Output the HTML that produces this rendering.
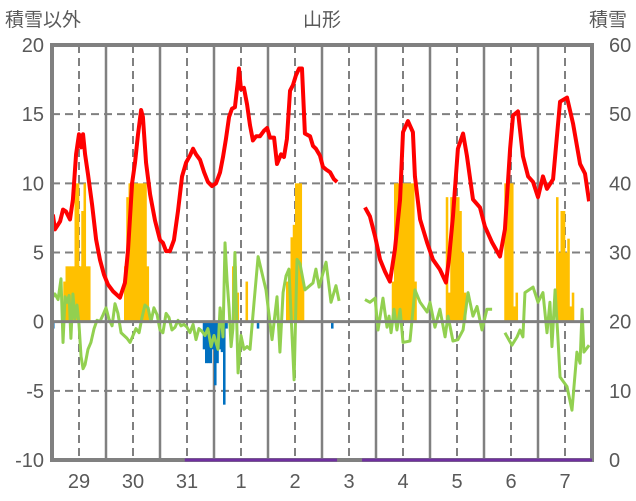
<!DOCTYPE html>
<html><head><meta charset="utf-8"><style>
html,body{margin:0;padding:0;background:#fff;}
svg{display:block;font-family:"Liberation Sans","Noto Sans CJK JP",sans-serif;}
</style></head><body>
<svg id="chart" width="636" height="501" viewBox="0 0 636 501" xmlns="http://www.w3.org/2000/svg">
<text x="5" y="26" font-size="19" fill="#595959">積雪以外</text>
<text x="322" y="26" font-size="19" fill="#595959" text-anchor="middle">山形</text>
<text x="589" y="26" font-size="19" fill="#595959">積雪</text>
<g id="grid"></g><g id="bars"></g><g id="lines"></g><g id="frame"></g><g id="labels"></g>
</svg>
<script>
const dayLabels=["29","30","31","1","2","3","4","5","6","7"];
const leftTicks=[20,15,10,5,0,-5,-10];
const rightTicks=[60,50,40,30,20,10,0];
const redT1=[0.4,1.3,3.6,4.9,6.2,8,9.3,10.7,12,12.9,13.8,14.7,16,17.8,19.6,21.3,23.1,24.9,27.1,30.2,32.4,33.8,35.6,36.9,38.2,39.6,40.4,41.8,43.6,45.8,48,49.3,50.7,52.4,54.2,56,57.8,59.6,61.3,62.7,64,65.8,67.6,69.3,71.1,72.9,74.7,76,77.3,78.7,80,81.3,82.7,83.1,84,85.3,86.7,88,89.3,90.7,92.4,94.2,95.6,96.9,98.7,100,101.8,103.1,104.4,105.8,107.1,108.4,109.8,111.1,112.4,114.7,116,117.3,119.1,120.4,121.8,123.6,125.3,126.7];
const redV1=[7.75,6.67,7.25,8.1,7.97,7.39,8.84,12.1,13.55,12.6,13.55,12.1,10.65,8.48,5.94,4.49,3.4,2.68,2.2,1.74,2.8,5.2,10,11.5,13.5,15.3,14.8,11.5,9.2,7.3,5.9,5.7,5.1,5.1,5.9,8,10.5,11.5,12,12.5,12.1,11.7,10.8,10.1,9.8,10,10.8,11.9,13.2,14.8,15.4,15.5,17.5,18.3,16.8,16.9,15.7,14.2,13.1,13.4,13.4,13.8,14,13.3,13.3,11.4,12.1,11.9,13.2,16.7,17.1,17.8,18.3,18.3,13.6,13.4,12.7,12.5,12,11.2,11,10.8,10.3,10.1];
const redT2=[139.1,141.3,143.6,145.8,148,150.2,152.4,154.7,156,158.2,160.4,161.3,163.6,166.7,169.3,172.4,175.1,176.4,178.2,180.4,182.7,184.4,187.1,190.2,192.4,195.6,199.1,201.3,203.6,204.9,207.1,209.3,211.6,213.8,216,218.2,220,222.7,225.8,228.9,231.6,234.7,236.9,238.7];
const redV2=[8.26,7.61,6.16,4.49,3.62,2.9,5.2,8.84,13.7,14.5,13.7,10.5,7.39,5.72,4.49,3.77,2.83,4.49,7.61,12.5,13.6,12.0,8.84,8.26,6.88,5.72,4.71,6.67,12.5,14.9,15.2,11.96,10.5,10.1,9.0,10.5,9.6,10.3,15.9,16.2,14.3,11.4,10.7,8.7];
const greenT1=[0,1.3,2.7,4,4.9,5.8,6.7,7.6,8.4,9.3,10.2,11.1,12,12.9,13.8,14.7,16,17.3,18.7,20,21.3,22.7,24,25.3,26.7,28,29.3,30.7,32,33.3,34.7,36,37.3,38.7,40,41.3,42.7,44,45.3,46.7,48,49.3,50.7,52,53.3,54.7,56,57.3,58.7,60,61.3,62.7,64,65.3,66.7,68,69.3,70.7,72,72.9,73.8,74.7,75.1,76,76.9,77.8,78.7,79.6,80.4,81.3,82.7,84,85.3,86.7,88,89.8,91.6,95.1,97.8,100,101.3,102.7,104,105.3,107.6,108.9,110.2,112.4,116,117.3,118.7,121.8,124,126.2,127.6];
const greenV1=[1.7,2.0,1.6,3.1,-1.5,1.8,1.4,1.9,-1.2,2.0,0.2,1.2,-0.2,-2.5,-3.4,-3.1,-2.0,-1.5,-0.5,0.1,0,0.5,1.0,0.2,-0.3,1.3,0.6,-0.8,-1.0,-1.2,-1.5,-1.0,-0.5,-0.8,0.3,1.2,1.0,0,1.0,0.5,-0.6,-0.8,0.6,0.3,-0.6,-0.4,0.1,-0.3,-0.2,-0.4,-0.8,-0.2,-1.3,-0.5,-0.7,-1.0,-0.5,-1.8,-1.0,-1.5,-2.0,1.0,0.5,-1.1,5.7,3.0,1.0,-1.8,-0.5,5.0,-3.7,-1.0,-2.0,-1.8,-2.0,1.4,4.7,2.3,-1.3,1.8,-2.2,2.1,3.3,3.8,-4.2,4.5,4.2,2.3,2.8,3.8,2.5,4.3,1.4,2.6,1.5];
const greenT2=[139.1,141.3,143.6,144.9,147.1,148.9,149.8,150.7,152,153.3,154.7,156,159.1,161.3,163.6,166.7,168,170.2,172.4,174.7,176,178.2,180.4,182.7,184.9,187.1,188.9,191.1,193.3,195.6];
const greenV2=[1.6,1.4,1.7,-0.6,1.7,-0.4,0.4,-0.8,0.9,-0.6,0.9,-1.5,-1.4,2.3,1.4,0.7,1.4,-0.4,0.9,-1.1,0.4,-1.4,-1.3,-0.6,2.1,0.4,1.1,-0.6,0.9,0.9];
const greenT3=[201.3,204.4,206.7,208,209.3,210.2,213.8,216,218.2,220,221.3,222.2,223.6,224.9,225.8,228.9,231.1,233.3,234.7,235.6,236.4,238.7];
const greenV3=[-0.8,-1.7,-1.1,-0.6,-1.1,2.1,2.5,1.4,2.1,-0.8,1.4,-1.8,2.3,-1.3,-4.0,-4.7,-6.4,-2.2,-3.0,0.9,-2.2,-1.7];
const orangeH=[5,6,7,8,9,10,11,12,13,14,15,16,32,33,34,35,36,37,38,39,40,41,42,80,81,82,86,104,105,106,107,108,109,110,111,151,152,153,154,155,156,157,158,159,160,161,175,176,177,178,179,180,181,182,183,201,202,203,204,205,206,224,225,226,227,228,229,230,231];
const orangeV=[2.9,4,4,4,4,10,10,4,8,10,4,4,4,9,10,10,10,10,10,10,10,10,4,4,4,2.1,2.9,2.9,2.9,6.1,7,10,10,10,2.9,2.9,10,10,10,10,10,10,10,10,10,2.9,9,2.1,9,9,9,9,8,5,2.1,10,10,10,10,1.1,2.1,9,5,8,8,5,6,1.1,2.1];
const blueH=[0,67,68,69,70,71,72,73,74,75,76,77,91,124];
const blueV=[-0.5,-2,-3,-3,-3,-2,-4.6,-3,-2,-2.2,-6,-0.5,-0.5,-0.5];
const purpleStart=[59,137.8];
const purpleEnd=[126.7,240];
const NS="http://www.w3.org/2000/svg";
const X0=52,X1=592,Y0=45,Y1=460,H=240;
const xs=h=>X0+(X1-X0)*h/H;
const ys=v=>Y1-(Y1-Y0)*(v+10)/30;
function mk(tag,attrs,parent){const e=document.createElementNS(NS,tag);for(const k in attrs)e.setAttribute(k,attrs[k]);parent.appendChild(e);return e;}
const grid=document.getElementById('grid'),bars=document.getElementById('bars'),lines=document.getElementById('lines'),frame=document.getElementById('frame'),labels=document.getElementById('labels');
leftTicks.forEach((t,i)=>{
  if(t!==20&&t!==-10&&t!==0){const l=mk('line',{x1:X0,x2:X1,y1:ys(t),y2:ys(t),stroke:'#808080','stroke-width':2,'stroke-dasharray':'8,5'},grid);
  
  }
  const tl=mk('text',{x:44,y:ys(t)+7,'font-size':20,fill:'#595959','text-anchor':'end'},labels);tl.textContent=t;
  
  
  const tr=mk('text',{x:609,y:ys(t)+7,'font-size':20,fill:'#595959'},labels);tr.textContent=rightTicks[i];
  
  
});
dayLabels.forEach((d,i)=>{
  if(i>0){const s=mk('line',{x1:xs(i*24),x2:xs(i*24),y1:Y0,y2:Y1,stroke:'#808080','stroke-width':2.5},grid);
  
  }
  const dl=mk('line',{x1:xs(i*24+12),x2:xs(i*24+12),y1:Y0,y2:Y1,stroke:'#808080','stroke-width':2,'stroke-dasharray':'8,5'},grid);
  
  
  const t=mk('text',{x:xs(i*24+12),y:488,'font-size':20,fill:'#595959','text-anchor':'middle'},labels);t.textContent=d;
  
  
});
const bw=(X1-X0)/H;
orangeH.forEach((h,i)=>{const v=orangeV[i];const r=mk('rect',{x:xs(h),y:ys(v),width:bw+0.3,height:ys(0)-ys(v),fill:'#FFC000'},bars);
  
  });
blueH.forEach((h,i)=>{const v=blueV[i];const r=mk('rect',{x:xs(h),y:ys(0),width:bw+0.3,height:ys(v)-ys(0),fill:'#0070C0'},bars);
  
  });
function poly(T,V,color,w,name){const p=mk('polyline',{points:T.map((t,i)=>xs(t)+','+ys(V[i])).join(' '),fill:'none',stroke:color,'stroke-width':w,'stroke-linejoin':'round'},lines);
  
  }
poly(greenT1,greenV1,'#92D050',3,'green-series');
poly(greenT2,greenV2,'#92D050',3,'green-series');
poly(greenT3,greenV3,'#92D050',3,'green-series');
poly(redT1,redV1,'#FF0000',4,'red-series');
poly(redT2,redV2,'#FF0000',4,'red-series');
const z=mk('line',{x1:X0,x2:X1,y1:ys(0),y2:ys(0),stroke:'#808080','stroke-width':3},frame);


const b=mk('rect',{x:X0,y:Y0,width:X1-X0,height:Y1-Y0,fill:'none',stroke:'#808080','stroke-width':4},frame);


purpleStart.forEach((s,i)=>{const p=mk('line',{x1:xs(s),x2:xs(purpleEnd[i]),y1:Y1,y2:Y1,stroke:'#7030A0','stroke-width':3},frame);
  
  });
</script>
</body></html>
